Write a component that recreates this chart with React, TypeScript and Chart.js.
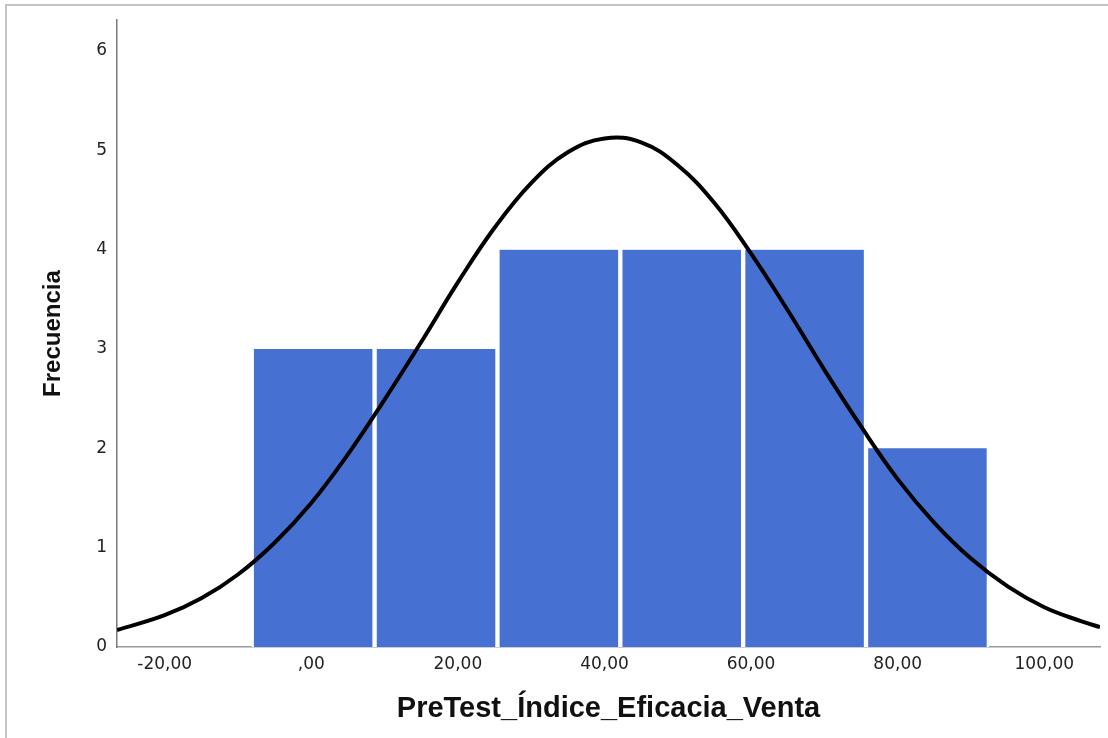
import React, { useEffect, useRef } from "react";
import { Chart, registerables } from "chart.js";

Chart.register(...registerables);

// Histogram bins (centers of equal-width bins) and their frequencies
const binCenters = [0.26, 17.02, 33.78, 50.54, 67.3, 84.06];
const frequencies = [3, 3, 4, 4, 4, 2];

// Normal curve
const curveX = [-26.5, -20, -15, -10, -5, 0, 5, 10, 15, 20, 25, 30, 35, 40, 45, 50, 55, 60, 65, 70, 75, 80, 85, 90, 95, 100, 105, 107.6];
const curveY = [0.17, 0.32, 0.49, 0.73, 1.05, 1.45, 1.94, 2.49, 3.07, 3.67, 4.22, 4.67, 4.98, 5.12, 5.08, 4.85, 4.47, 3.96, 3.39, 2.79, 2.22, 1.69, 1.25, 0.89, 0.61, 0.4, 0.26, 0.2];

const xTicks = [-20, 0, 20, 40, 60, 80, 100];
const yTicks = [0, 1, 2, 3, 4, 5, 6];

const xTitle = "PreTest_Índice_Eficacia_Venta";
const yTitle = "Frecuencia";

const fmt = (v: number) => {
  const s = v.toFixed(2).replace(".", ",");
  return s.replace(/^(-?)0,/, "$1,");
};

export default function App() {
  const ref = useRef<HTMLCanvasElement | null>(null);

  useEffect(() => {
    if (!ref.current) return;
    const chart = new Chart(ref.current, {
      type: "bar",
      data: {
        datasets: [
          {
            type: "line",
            data: curveX.map((x, i) => ({ x, y: curveY[i] })),
            borderColor: "#000000",
            borderWidth: 4,
            pointRadius: 0,
            tension: 0.4,
            order: 0,
          } as any,
          {
            type: "bar",
            data: binCenters.map((x, i) => ({ x, y: frequencies[i] })),
            backgroundColor: "rgb(70,113,211)",
            borderColor: "#ffffff",
            borderWidth: { left: 2.5, right: 2.5, top: 0, bottom: 0 },
            borderSkipped: false,
            barPercentage: 1,
            categoryPercentage: 1,
            order: 1,
          } as any,
        ],
      },
      options: {
        animation: false,
        responsive: false,
        layout: { padding: { top: 16, right: 8, left: 0, bottom: 0 } },
        plugins: { legend: { display: false }, tooltip: { enabled: false } },
        scales: {
          x: {
            type: "linear",
            min: -26.5,
            max: 107.6,
            offset: false,
            grid: { display: false, drawTicks: false },
            border: { display: true, color: "#9a9a9a", width: 1.5 },
            afterBuildTicks: (s: any) => {
              s.ticks = xTicks.map((v) => ({ value: v }));
            },
            afterFit: (s: any) => {
              s.height = 91;
            },
            ticks: {
              autoSkip: false,
              maxRotation: 0,
              padding: 7,
              color: "#222222",
              font: { family: "'DejaVu Sans', Verdana, sans-serif", size: 17 },
              callback: (v: any) => fmt(Number(v)),
            },
            title: {
              display: true,
              text: xTitle,
              color: "#111111",
              padding: { top: 0, bottom: 12 },
              font: { family: "'Liberation Sans', Arial, sans-serif", size: 29, weight: "bold" },
            },
          },
          y: {
            type: "linear",
            min: 0,
            max: 6.31,
            grid: { display: false, drawTicks: false },
            border: { display: true, color: "#7a7a7a", width: 1.5 },
            afterBuildTicks: (s: any) => {
              s.ticks = yTicks.map((v) => ({ value: v }));
            },
            afterFit: (s: any) => {
              s.width = 117;
            },
            ticks: {
              padding: 10,
              color: "#222222",
              font: { family: "'DejaVu Sans', Verdana, sans-serif", size: 17 },
              callback: (v: any) => String(v),
            },
            title: {
              display: true,
              text: yTitle,
              color: "#111111",
              padding: { top: 39, bottom: 0 },
              font: { family: "'Liberation Sans', Arial, sans-serif", size: 24, weight: "bold" },
            },
          },
        },
      },
    });
    return () => chart.destroy();
  }, []);

  return (
    <div style={{ position: "fixed", left: 0, top: 0, width: 1108, height: 738, overflow: "hidden", background: "#ffffff" }}>
      <div
        style={{
          position: "absolute",
          left: 5,
          top: 4,
          width: 1300,
          height: 900,
          border: "2px solid #c4c4c4",
          boxSizing: "border-box",
        }}
      />
      <canvas ref={ref} width={1108} height={738} style={{ position: "absolute", left: 0, top: 0, width: 1108, height: 738 }} />
    </div>
  );
}
